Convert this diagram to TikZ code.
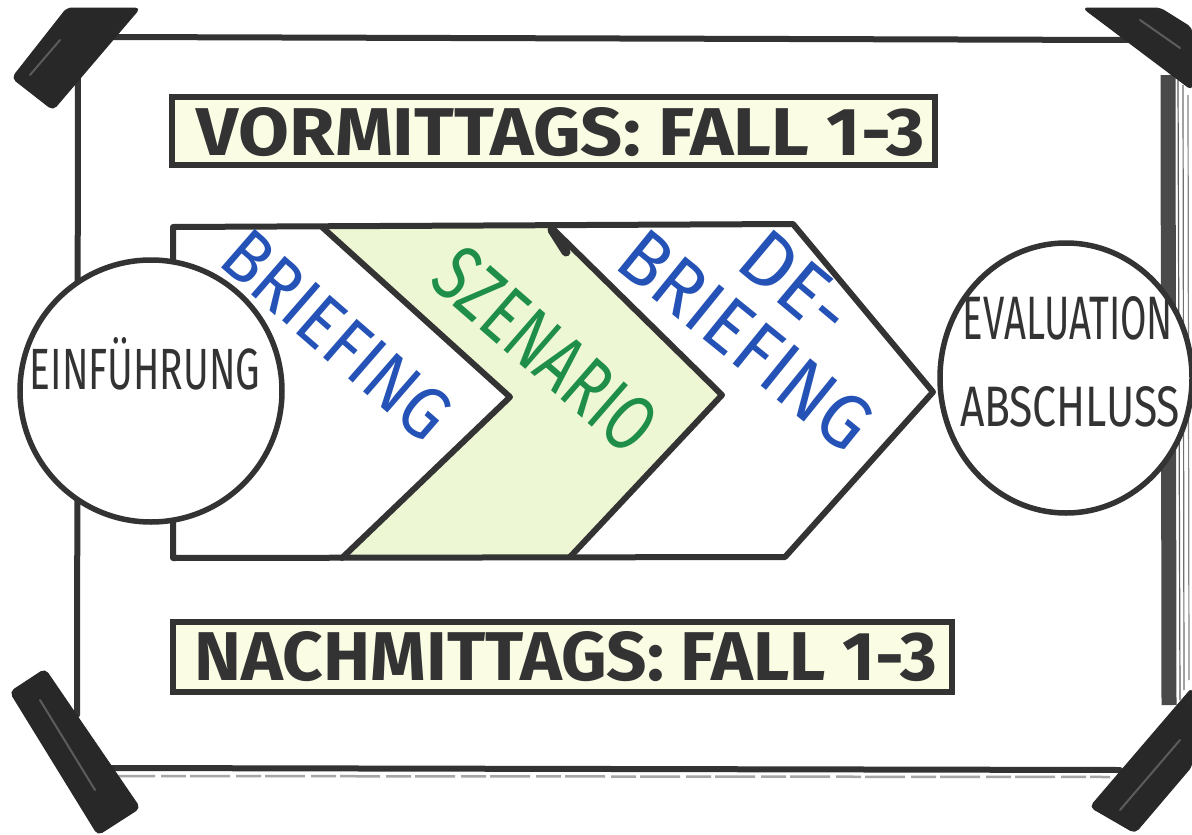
\documentclass[tikz,border=0pt]{standalone}
\usepackage{fontspec}
\setmainfont{Fira Sans}
\usetikzlibrary{shapes.geometric}
\definecolor{ink}{HTML}{333333}
\definecolor{tapecol}{HTML}{282828}
\definecolor{tapehi}{HTML}{5C5C5C}
\definecolor{blueink}{HTML}{2452B6}
\definecolor{greenink}{HTML}{1E8E48}
\definecolor{paleyellow}{HTML}{FAFCE4}
\definecolor{palegreen}{HTML}{EEF7D4}
\definecolor{framegray}{HTML}{4A4A4A}
\newcommand{\fitbox}[3]{\resizebox{#1pt}{#2pt}{#3}}
\begin{document}
\begin{tikzpicture}[x=1pt,y=-1pt,
  inkline/.style={draw=ink, line width=6pt, line join=round, line cap=round},
  tapestyle/.style={fill=tapecol, draw=tapecol, line width=1pt, rounded corners=5pt},
  tapeshine/.style={draw=tapehi, line width=2pt, line cap=round},
  txt/.style={inner sep=0pt, outer sep=0pt},
  titlebox/.style={draw=ink, line width=6pt, fill=paleyellow, inner sep=0pt, minimum width=763pt, minimum height=68pt},
  roundnode/.style={draw=ink, line width=5.5pt, fill=white, inner sep=0pt}
]
\useasboundingbox (0,0) rectangle (1192,835);
\fill[white] (0,0) rectangle (1192,835);

% frame
\coordinate (fTL) at (113,37);
\coordinate (fTR) at (1127,40);
\coordinate (fL1) at (78,75);
\coordinate (fL2) at (77,715);
\coordinate (fB1) at (110,768);
\coordinate (fB2) at (1120,770);
\coordinate (fR1) at (1168,75);
\coordinate (fR2) at (1169,705);
\draw[inkline] (fTL) -- (fTR);
\draw[inkline] (fL1) -- (fL2);
\draw[inkline] (fB1) -- (fB2);
\draw[draw=gray!70, line width=2.5pt, dash pattern=on 40pt off 6pt on 25pt off 4pt] (115,776) -- (1110,777);
\draw[draw=framegray, line width=15pt] (fR1) -- (fR2);
\draw[draw=ink!80, line width=1.2pt] (1178,80) -- (1180,700);
\draw[draw=ink!70, line width=1.2pt] (1183,85) -- (1184,690);
\draw[draw=ink!60, line width=1.2pt] (1188,95) -- (1189,680);

% tapes
\draw[tapestyle] (67,8) -- (140,8) -- (53,110) -- (12,78) -- cycle;
\draw[tapeshine] (60,40) -- (30,75);
\draw[tapestyle] (1083,8) -- (1160,8) -- (1192,28) -- (1192,90) -- cycle;
\draw[tapeshine] (1140,20) -- (1180,48);
\draw[tapestyle] (10,692) -- (45,669) -- (140,808) -- (98,835) -- cycle;
\draw[tapeshine] (40,700) -- (95,790);
\draw[tapestyle] (1090,807) -- (1135,833) -- (1192,766) -- (1192,688) -- cycle;
\draw[tapeshine] (1120,810) -- (1180,740);

% chevron band
\coordinate (bTL) at (173,227);
\coordinate (bBL) at (173,558);
\coordinate (d1t) at (322,227);
\coordinate (d1p) at (510,397);
\coordinate (d1b) at (342,558);
\coordinate (d2t) at (550,226);
\coordinate (d2p) at (722,395);
\coordinate (d2b) at (570,557);
\coordinate (d3t) at (793,224);
\coordinate (d3p) at (933,392);
\coordinate (d3b) at (785,557);
\fill[white] (bTL) -- (d3t) -- (d3p) -- (d3b) -- (bBL) -- cycle;
\fill[palegreen] (d1t) -- (d2t) -- (d2p) -- (d2b) -- (d1b) -- (d1p) -- cycle;
\draw[inkline] (bTL) -- (d3t) -- (d3p) -- (d3b) -- (bBL) -- cycle;
\draw[inkline] (d1t) -- (d1p) -- (d1b);
\draw[inkline] (d2t) -- (d2p) -- (d2b);
\draw[ink, line width=9pt, line cap=round] (552,230) -- (566,252);

% circles
\node[roundnode, circle, minimum size=262pt] (ein) at (151,391) {};
\node[roundnode, ellipse, minimum width=252pt, minimum height=270pt] (eval) at (1066,378) {};

% circle texts
\node[txt, text=ink] (eintext) at (145,364) {\fitbox{230}{52}{EINFÜHRUNG}};
\node[txt, text=ink] (evaltext) at (1068,318) {\fitbox{210}{43}{EVALUATION}};
\node[txt, text=ink] (abschtext) at (1070,407) {\fitbox{220}{40}{ABSCHLUSS}};

% chevron texts
\node[txt, text=blueink, rotate=-41] (brief) at (337,335) {\fitbox{276}{52}{BRIEFING}};
\node[txt, text=greenink, rotate=-41] (szen) at (546,350) {\fitbox{265}{56}{SZENARIO}};
\node[txt, text=blueink, rotate=-39] (debrief) at (746,340) {\fitbox{300}{54}{BRIEFING}};
\node[txt, text=blueink, rotate=-40] (de) at (797,284) {\fitbox{120}{54}{DE-}};

% title boxes
\node[titlebox] (vorm) at (553,131) {};
\node[txt, text=ink] (vormtext) at (561,132) {\fitbox{728}{48}{\bfseries VORMITTAGS: FALL 1-3}};
\node[titlebox, minimum width=779pt, minimum height=70pt] (nach) at (562,657) {};
\node[txt, text=ink] (nachtext) at (566,657) {\fitbox{742}{49}{\bfseries NACHMITTAGS: FALL 1-3}};
\end{tikzpicture}
\end{document}
